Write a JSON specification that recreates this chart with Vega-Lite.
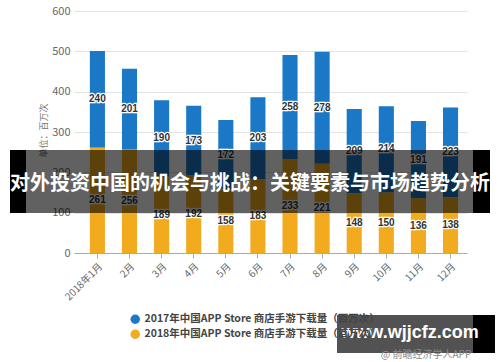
{
  "$schema": "https://vega.github.io/schema/vega-lite/v6.json",
  "width": 393,
  "height": 242,
  "autosize": "none",
  "padding": {"left": 74, "top": 11, "right": 33, "bottom": 109},
  "background": "white",
  "config": {"font": "Noto Sans CJK SC", "view": {"stroke": null}},
  "datasets": {
    "bars": [
      {"month": "2018年1月", "series": "2017年中国APP Store 商店手游下载量（百万次）", "value": 240},
      {"month": "2月", "series": "2017年中国APP Store 商店手游下载量（百万次）", "value": 201},
      {"month": "3月", "series": "2017年中国APP Store 商店手游下载量（百万次）", "value": 190},
      {"month": "4月", "series": "2017年中国APP Store 商店手游下载量（百万次）", "value": 173},
      {"month": "5月", "series": "2017年中国APP Store 商店手游下载量（百万次）", "value": 172},
      {"month": "6月", "series": "2017年中国APP Store 商店手游下载量（百万次）", "value": 203},
      {"month": "7月", "series": "2017年中国APP Store 商店手游下载量（百万次）", "value": 258},
      {"month": "8月", "series": "2017年中国APP Store 商店手游下载量（百万次）", "value": 278},
      {"month": "9月", "series": "2017年中国APP Store 商店手游下载量（百万次）", "value": 209},
      {"month": "10月", "series": "2017年中国APP Store 商店手游下载量（百万次）", "value": 214},
      {"month": "11月", "series": "2017年中国APP Store 商店手游下载量（百万次）", "value": 191},
      {"month": "12月", "series": "2017年中国APP Store 商店手游下载量（百万次）", "value": 223},
      {"month": "2018年1月", "series": "2018年中国APP Store 商店手游下载量（百万次）", "value": 261},
      {"month": "2月", "series": "2018年中国APP Store 商店手游下载量（百万次）", "value": 256},
      {"month": "3月", "series": "2018年中国APP Store 商店手游下载量（百万次）", "value": 189},
      {"month": "4月", "series": "2018年中国APP Store 商店手游下载量（百万次）", "value": 192},
      {"month": "5月", "series": "2018年中国APP Store 商店手游下载量（百万次）", "value": 158},
      {"month": "6月", "series": "2018年中国APP Store 商店手游下载量（百万次）", "value": 183},
      {"month": "7月", "series": "2018年中国APP Store 商店手游下载量（百万次）", "value": 233},
      {"month": "8月", "series": "2018年中国APP Store 商店手游下载量（百万次）", "value": 221},
      {"month": "9月", "series": "2018年中国APP Store 商店手游下载量（百万次）", "value": 148},
      {"month": "10月", "series": "2018年中国APP Store 商店手游下载量（百万次）", "value": 150},
      {"month": "11月", "series": "2018年中国APP Store 商店手游下载量（百万次）", "value": 136},
      {"month": "12月", "series": "2018年中国APP Store 商店手游下载量（百万次）", "value": 138}
    ]
  },
  "layer": [
    {
      "data": {"name": "bars"},
      "mark": {"type": "bar"},
      "encoding": {
        "x": {
          "field": "month", "type": "nominal", "sort": null,
          "scale": {"paddingInner": 0.53, "paddingOuter": 0.386, "align": 0.64},
          "axis": {
            "title": null, "labelAngle": -45, "labelColor": "#666", "labelFontSize": 10,
            "domainColor": "#aaa", "tickColor": "#aaa", "tickSize": 5, "labelPadding": 3,
            "grid": false
          }
        },
        "y": {
          "field": "value", "type": "quantitative", "stack": "zero",
          "scale": {"domain": [0, 600]},
          "axis": {
            "values": [0, 100, 200, 300, 400, 500, 600],
            "title": "单位：百万次", "titleFontSize": 9, "titleColor": "#777", "titleFontWeight": "normal",
            "titleX": -31, "titleY": 119, "titleAngle": -90, "titleAlign": "center", "titleBaseline": "middle",
            "labelColor": "#666", "labelFontSize": 11, "labelPadding": 4,
            "domain": false, "ticks": false, "gridColor": "#e3e3e3"
          }
        },
        "color": {
          "field": "series", "type": "nominal",
          "scale": {
            "domain": ["2017年中国APP Store 商店手游下载量（百万次）", "2018年中国APP Store 商店手游下载量（百万次）"],
            "range": ["#1a78c6", "#f2aa1f"]
          },
          "legend": {
            "title": null, "orient": "none", "legendX": 56, "legendY": 303,
            "symbolType": "circle", "symbolSize": 90, "labelFontSize": 10.5, "labelColor": "#444",
            "labelFontWeight": "bold", "labelLimit": 0, "rowPadding": 4, "symbolStrokeWidth": 0
          }
        },
        "order": {"field": "series", "sort": "descending"}
      }
    },
    {
      "data": {"name": "bars"},
      "transform": [
        {"stack": "value", "groupby": ["month"], "sort": [{"field": "series", "order": "descending"}], "as": ["v0", "v1"]},
        {"calculate": "(datum.v0 + datum.v1) / 2", "as": "mid"}
      ],
      "mark": {"type": "text", "fontSize": 10, "fontWeight": "bold", "fill": "white", "stroke": "white", "strokeWidth": 2.5, "font": "Liberation Sans"},
      "encoding": {
        "x": {"field": "month", "type": "nominal", "sort": null},
        "y": {"field": "mid", "type": "quantitative"},
        "text": {"field": "value", "type": "quantitative"}
      }
    },
    {
      "data": {"name": "bars"},
      "transform": [
        {"stack": "value", "groupby": ["month"], "sort": [{"field": "series", "order": "descending"}], "as": ["v0", "v1"]},
        {"calculate": "(datum.v0 + datum.v1) / 2", "as": "mid"}
      ],
      "mark": {"type": "text", "fontSize": 10, "fontWeight": "bold", "fill": "#333", "font": "Liberation Sans"},
      "encoding": {
        "x": {"field": "month", "type": "nominal", "sort": null},
        "y": {"field": "mid", "type": "quantitative"},
        "text": {"field": "value", "type": "quantitative"}
      }
    },
    {
      "data": {"values": [{"t": "banner"}]},
      "mark": {"type": "rect", "fill": "black", "opacity": 0.62},
      "encoding": {"x": {"value": -64}, "x2": {"value": 416}, "y": {"value": 139}, "y2": {"value": 202}}
    },
    {
      "data": {"values": [{"a": -64, "b": -48}, {"a": 399, "b": 416}]},
      "mark": {"type": "rect", "fill": "black"},
      "encoding": {"x": {"value": -64}, "x2": {"value": -48}, "y": {"value": 139}, "y2": {"value": 202}}
    },
    {
      "data": {"values": [{"t": "right"}]},
      "mark": {"type": "rect", "fill": "black"},
      "encoding": {"x": {"value": 399}, "x2": {"value": 416}, "y": {"value": 139}, "y2": {"value": 202}}
    },
    {
      "data": {"values": [{"label": "对外投资中国的机会与挑战：关键要素与市场趋势分析"}]},
      "mark": {"type": "text", "fill": "white", "fontSize": 20, "fontWeight": "bold", "font": "Noto Sans CJK SC", "align": "center", "baseline": "middle"},
      "encoding": {"x": {"value": 176}, "y": {"value": 173}, "text": {"field": "label"}}
    },
    {
      "data": {"values": [{"t": "wm"}]},
      "mark": {"type": "rect", "fill": "black", "opacity": 0.68},
      "encoding": {"x": {"value": 263}, "x2": {"value": 421}, "y": {"value": 304}, "y2": {"value": 342}}
    },
    {
      "data": {"values": [{"t": "wm2"}]},
      "mark": {"type": "rect", "fill": "black"},
      "encoding": {"x": {"value": 399}, "x2": {"value": 421}, "y": {"value": 304}, "y2": {"value": 342}}
    },
    {
      "data": {"values": [{"label": "www.wjjcfz.com"}]},
      "mark": {"type": "text", "fill": "white", "fontSize": 18, "fontWeight": "bold", "font": "Liberation Sans", "align": "center", "baseline": "middle"},
      "encoding": {"x": {"value": 336}, "y": {"value": 322}, "text": {"field": "label"}}
    },
    {
      "data": {"values": [{"label": "@ 前瞻经济学人APP"}]},
      "mark": {"type": "text", "fill": "#888", "fontSize": 10, "font": "Noto Sans CJK SC", "align": "center", "baseline": "middle"},
      "encoding": {"x": {"value": 352}, "y": {"value": 344}, "text": {"field": "label"}}
    }
  ]
}
